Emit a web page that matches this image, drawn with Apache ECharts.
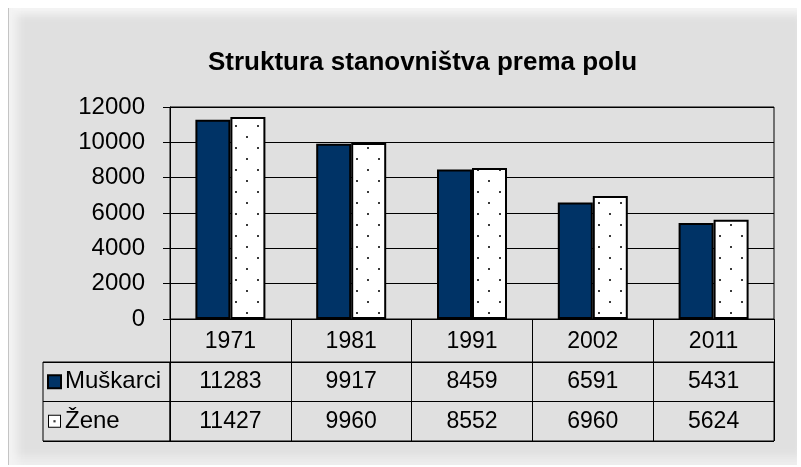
<!DOCTYPE html>
<html style="height: 100%;margin: 0;padding: 0;">
<head>
<meta charset="utf-8">
<title>Struktura stanovništva prema polu</title>
<script src="https://cdn.jsdelivr.net/npm/echarts@6/dist/echarts.min.js"></script>
<style>
  body { margin: 0; padding: 0; background: #fff; }
  #frame {
    position: absolute; left: 8px; top: 8px; width: 788px; height: 457px;
    background: #e0e0e0;
    border-left: 1px solid #c4c4c4;
    box-shadow: inset 16px 0 10px -8px #f4f4f4, inset 0 12px 8px -6px #f6f6f6, inset 0 -16px 10px -8px #eeeeee;
  }
  #main { position: absolute; left: 0; top: 0; width: 801px; height: 467px; }
</style>
</head>
<body>
<div id="frame"></div>
<div id="main"></div>
<script type="text/javascript">
var years = ['1971', '1981', '1991', '2002', '2011'];
var seriesNames = ['Muškarci', 'Žene'];
var muskarci = [11283, 9917, 8459, 6591, 5431];
var zene = [11427, 9960, 8552, 6960, 5624];
var yTicks = [0, 2000, 4000, 6000, 8000, 10000, 12000];

var FONT = 'Liberation Sans, Arial, sans-serif';
var NAVY = '#003366';

// tackasti uzorak za Zene
function dotPattern(w, h, dots) {
  var c = document.createElement('canvas');
  c.width = w; c.height = h;
  var ctx = c.getContext('2d');
  ctx.fillStyle = '#fff';
  ctx.fillRect(0, 0, w, h);
  ctx.fillStyle = '#3a3a3a';
  for (var i = 0; i < dots.length; i++) ctx.fillRect(dots[i][0], dots[i][1], 2, 2);
  return c;
}
var barPattern = dotPattern(22, 22, [[4, 4], [15, 15]]);
var keyPattern = dotPattern(10, 10, [[4, 4]]);

// celije tabele
var cells = [];
for (var i = 0; i < years.length; i++) {
  cells.push([i, 0, muskarci[i]]);
  cells.push([i, 1, zene[i]]);
}

var myChart = echarts.init(document.getElementById('main'));
var option = {
  backgroundColor: 'transparent',
  animation: false,
  textStyle: { fontFamily: FONT },
  title: {
    text: 'Struktura stanovništva prema polu',
    left: 203, top: 45,
    textStyle: { fontFamily: FONT, fontSize: 26, fontWeight: 'bold', color: '#000' }
  },
  grid: [
    { left: 170, right: 27, top: 107, bottom: 148, show: true, borderColor: '#000', borderWidth: 1 },
    { left: 170, right: 27, top: 362, height: 79, show: true, borderColor: '#000', borderWidth: 1 },
    { left: 43, width: 127, top: 362, height: 79, show: true, borderColor: '#000', borderWidth: 1 }
  ],
  xAxis: [
    {
      type: 'category', gridIndex: 0, data: years,
      axisLine: { lineStyle: { color: '#000', width: 1 } },
      axisTick: { show: true, length: 43, alignWithLabel: false, lineStyle: { color: '#000' } },
      axisLabel: { color: '#000', fontSize: 23, margin: 11 },
      splitLine: { show: false }
    },
    {
      type: 'category', gridIndex: 1, data: years,
      axisLine: { show: false }, axisTick: { show: false }, axisLabel: { show: false },
      splitLine: { show: true, lineStyle: { color: '#000', width: 1 } }
    },
    {
      type: 'value', gridIndex: 2, min: 0, max: 1, show: false
    }
  ],
  yAxis: [
    {
      type: 'value', gridIndex: 0, min: yTicks[0], max: yTicks[yTicks.length - 1], interval: 2000,
      axisLine: { show: true, lineStyle: { color: '#000', width: 1 } },
      axisTick: { show: true, length: 7, lineStyle: { color: '#000' } },
      axisLabel: { color: '#000', fontSize: 24, margin: 25, formatter: function (v) { return String(v); } },
      splitLine: { show: true, lineStyle: { color: '#000', width: 1 } }
    },
    {
      type: 'category', gridIndex: 1, data: seriesNames, inverse: true,
      axisLine: { show: false }, axisTick: { show: false }, axisLabel: { show: false },
      splitLine: { show: true, lineStyle: { color: '#000', width: 1 } }
    },
    {
      type: 'category', gridIndex: 2, data: seriesNames, inverse: true,
      axisLine: { show: false }, axisTick: { show: false },
      splitLine: { show: true, lineStyle: { color: '#000', width: 1 } },
      axisLabel: {
        inside: true, margin: 6, align: 'left',
        formatter: function (v) {
          return (v === seriesNames[0] ? '{m|}' : '{z|}') + '{t|' + v + '}';
        },
        rich: {
          m: { width: 11, height: 11, backgroundColor: NAVY, borderColor: '#000', borderWidth: 2 },
          z: { width: 11, height: 11, backgroundColor: { image: keyPattern }, borderColor: '#000', borderWidth: 2 },
          t: { fontSize: 24, color: '#000', padding: [0, 0, 0, 5], fontFamily: FONT }
        }
      }
    }
  ],
  series: [
    {
      name: seriesNames[0], type: 'bar', xAxisIndex: 0, yAxisIndex: 0,
      data: muskarci, barWidth: 35, barGap: '0%',
      itemStyle: { color: NAVY, borderColor: '#000', borderWidth: 2 }
    },
    {
      name: seriesNames[1], type: 'bar', xAxisIndex: 0, yAxisIndex: 0,
      data: zene, barWidth: 35, barGap: '0%',
      itemStyle: { color: { image: barPattern, repeat: 'repeat' }, borderColor: '#000', borderWidth: 2 }
    },
    {
      type: 'scatter', xAxisIndex: 1, yAxisIndex: 1, data: cells,
      symbolSize: 1, itemStyle: { color: '#e0e0e0', opacity: 1 },
      label: {
        show: true, position: 'inside', color: '#000', fontSize: 23, fontFamily: FONT,
        textBorderWidth: 0, opacity: 1,
        formatter: function (p) { return String(p.value[2]); }
      }
    }
  ]
};
myChart.setOption(option);
</script>
</body>
</html>
